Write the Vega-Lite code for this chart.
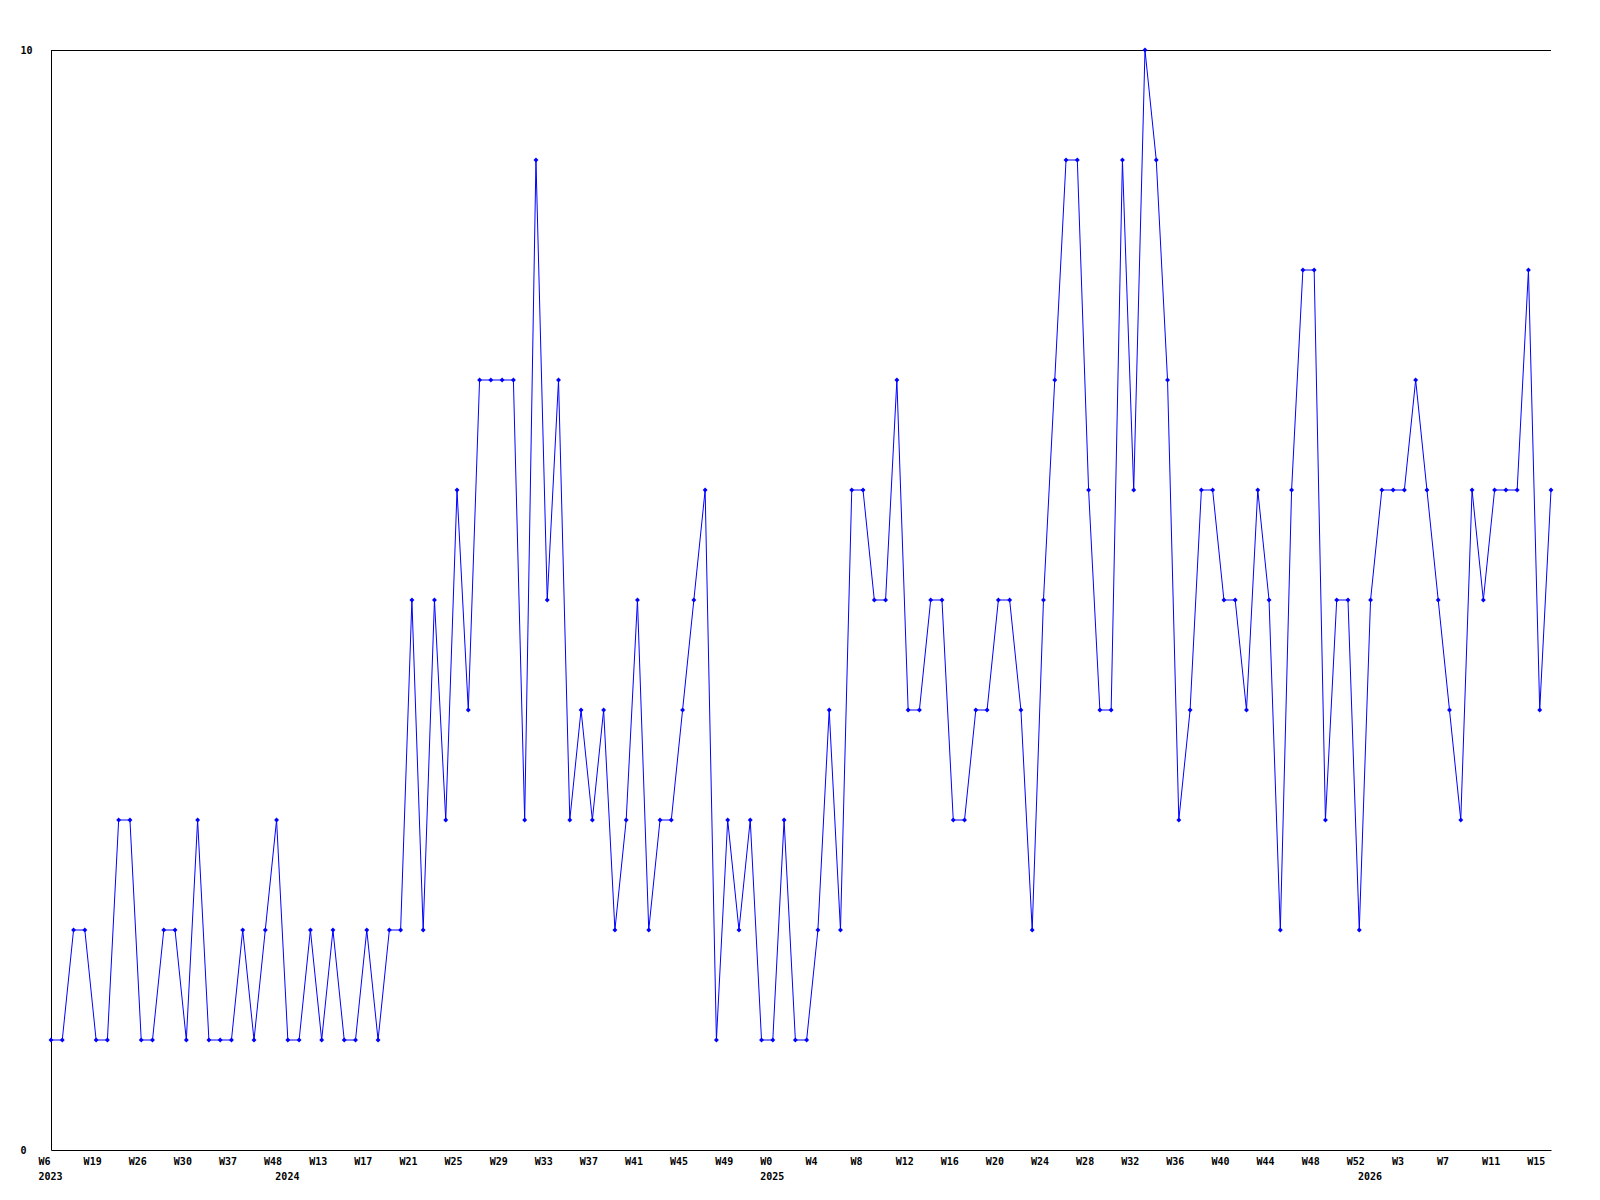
{
  "$schema": "https://vega.github.io/schema/vega-lite/v6.json",
  "width": 1500,
  "height": 1100,
  "autosize": "none",
  "padding": {"left": 51, "top": 50, "right": 49, "bottom": 50},
  "background": "white",
  "config": {
    "view": {"stroke": null},
    "axis": {"labelFont": "DejaVu Sans Mono", "labelFontWeight": "bold", "labelFontSize": 10, "labelColor": "black", "domainColor": "black", "domainWidth": 1, "grid": false, "ticks": false, "tickSize": 0, "title": null}
  },
  "data": {"values": [
    {"week": "2023|W6", "count": 1}, {"week": "2023|W8", "count": 1}, {"week": "2023|W12", "count": 2}, {"week": "2023|W15", "count": 2},
    {"week": "2023|W19", "count": 1}, {"week": "2023|W20", "count": 1}, {"week": "2023|W22", "count": 3}, {"week": "2023|W24", "count": 3},
    {"week": "2023|W26", "count": 1}, {"week": "2023|W27", "count": 1}, {"week": "2023|W28", "count": 2}, {"week": "2023|W29", "count": 2},
    {"week": "2023|W30", "count": 1}, {"week": "2023|W32", "count": 3}, {"week": "2023|W34", "count": 1}, {"week": "2023|W35", "count": 1},
    {"week": "2023|W37", "count": 1}, {"week": "2023|W40", "count": 2}, {"week": "2023|W43", "count": 1}, {"week": "2023|W45", "count": 2},
    {"week": "2023|W48", "count": 3}, {"week": "2024|W1", "count": 1}, {"week": "2024|W5", "count": 1}, {"week": "2024|W9", "count": 2},
    {"week": "2024|W13", "count": 1}, {"week": "2024|W14", "count": 2}, {"week": "2024|W15", "count": 1}, {"week": "2024|W16", "count": 1},
    {"week": "2024|W17", "count": 2}, {"week": "2024|W18", "count": 1}, {"week": "2024|W19", "count": 2}, {"week": "2024|W20", "count": 2},
    {"week": "2024|W21", "count": 5}, {"week": "2024|W22", "count": 2}, {"week": "2024|W23", "count": 5}, {"week": "2024|W24", "count": 3},
    {"week": "2024|W25", "count": 6}, {"week": "2024|W26", "count": 4}, {"week": "2024|W27", "count": 7}, {"week": "2024|W28", "count": 7},
    {"week": "2024|W29", "count": 7}, {"week": "2024|W30", "count": 7}, {"week": "2024|W31", "count": 3}, {"week": "2024|W32", "count": 9},
    {"week": "2024|W33", "count": 5}, {"week": "2024|W34", "count": 7}, {"week": "2024|W35", "count": 3}, {"week": "2024|W36", "count": 4},
    {"week": "2024|W37", "count": 3}, {"week": "2024|W38", "count": 4}, {"week": "2024|W39", "count": 2}, {"week": "2024|W40", "count": 3},
    {"week": "2024|W41", "count": 5}, {"week": "2024|W42", "count": 2}, {"week": "2024|W43", "count": 3}, {"week": "2024|W44", "count": 3},
    {"week": "2024|W45", "count": 4}, {"week": "2024|W46", "count": 5}, {"week": "2024|W47", "count": 6}, {"week": "2024|W48", "count": 1},
    {"week": "2024|W49", "count": 3}, {"week": "2024|W50", "count": 2}, {"week": "2024|W51", "count": 3}, {"week": "2024|W52", "count": 1},
    {"week": "2025|W0", "count": 1}, {"week": "2025|W1", "count": 3}, {"week": "2025|W2", "count": 1}, {"week": "2025|W3", "count": 1},
    {"week": "2025|W4", "count": 2}, {"week": "2025|W5", "count": 4}, {"week": "2025|W6", "count": 2}, {"week": "2025|W7", "count": 6},
    {"week": "2025|W8", "count": 6}, {"week": "2025|W9", "count": 5}, {"week": "2025|W10", "count": 5}, {"week": "2025|W11", "count": 7},
    {"week": "2025|W12", "count": 4}, {"week": "2025|W13", "count": 4}, {"week": "2025|W14", "count": 5}, {"week": "2025|W15", "count": 5},
    {"week": "2025|W16", "count": 3}, {"week": "2025|W17", "count": 3}, {"week": "2025|W18", "count": 4}, {"week": "2025|W19", "count": 4},
    {"week": "2025|W20", "count": 5}, {"week": "2025|W21", "count": 5}, {"week": "2025|W22", "count": 4}, {"week": "2025|W23", "count": 2},
    {"week": "2025|W24", "count": 5}, {"week": "2025|W25", "count": 7}, {"week": "2025|W26", "count": 9}, {"week": "2025|W27", "count": 9},
    {"week": "2025|W28", "count": 6}, {"week": "2025|W29", "count": 4}, {"week": "2025|W30", "count": 4}, {"week": "2025|W31", "count": 9},
    {"week": "2025|W32", "count": 6}, {"week": "2025|W33", "count": 10}, {"week": "2025|W34", "count": 9}, {"week": "2025|W35", "count": 7},
    {"week": "2025|W36", "count": 3}, {"week": "2025|W37", "count": 4}, {"week": "2025|W38", "count": 6}, {"week": "2025|W39", "count": 6},
    {"week": "2025|W40", "count": 5}, {"week": "2025|W41", "count": 5}, {"week": "2025|W42", "count": 4}, {"week": "2025|W43", "count": 6},
    {"week": "2025|W44", "count": 5}, {"week": "2025|W45", "count": 2}, {"week": "2025|W46", "count": 6}, {"week": "2025|W47", "count": 8},
    {"week": "2025|W48", "count": 8}, {"week": "2025|W49", "count": 3}, {"week": "2025|W50", "count": 5}, {"week": "2025|W51", "count": 5},
    {"week": "2025|W52", "count": 2}, {"week": "2026|W0", "count": 5}, {"week": "2026|W1", "count": 6}, {"week": "2026|W2", "count": 6},
    {"week": "2026|W3", "count": 6}, {"week": "2026|W4", "count": 7}, {"week": "2026|W5", "count": 6}, {"week": "2026|W6", "count": 5},
    {"week": "2026|W7", "count": 4}, {"week": "2026|W8", "count": 3}, {"week": "2026|W9", "count": 6}, {"week": "2026|W10", "count": 5},
    {"week": "2026|W11", "count": 6}, {"week": "2026|W12", "count": 6}, {"week": "2026|W13", "count": 6}, {"week": "2026|W14", "count": 8},
    {"week": "2026|W15", "count": 4}, {"week": "2026|W16", "count": 6}
  ]},
  "encoding": {
    "x": {
      "field": "week", "type": "ordinal", "sort": null,
      "scale": {"type": "point", "padding": 0},
      "axis": {
        "values": ["2023|W6", "2023|W19", "2023|W26", "2023|W30", "2023|W37", "2023|W48", "2024|W1", "2024|W13", "2024|W17", "2024|W21", "2024|W25", "2024|W29", "2024|W33", "2024|W37", "2024|W41", "2024|W45", "2024|W49", "2025|W0", "2025|W4", "2025|W8", "2025|W12", "2025|W16", "2025|W20", "2025|W24", "2025|W28", "2025|W32", "2025|W36", "2025|W40", "2025|W44", "2025|W48", "2025|W52", "2026|W0", "2026|W3", "2026|W7", "2026|W11", "2026|W15"],
        "labelExpr": "(datum.value == '2024|W1' || datum.value == '2026|W0') ? ['', split(datum.value,'|')[0]] : ((datum.value == '2023|W6' || datum.value == '2025|W0') ? [split(datum.value,'|')[1], split(datum.value,'|')[0]] : split(datum.value,'|')[1])",
        "labelAlign": "left", "labelBaseline": "top", "labelOffset": -13, "labelPadding": 6, "labelLineHeight": 15, "labelAngle": 0, "labelOverlap": false
      }
    },
    "y": {
      "field": "count", "type": "quantitative",
      "scale": {"domain": [0, 10], "nice": false, "zero": true},
      "axis": {"values": [0, 10], "labelAlign": "left", "labelBaseline": "middle", "labelPadding": 31}
    }
  },
  "layer": [
    {"mark": {"type": "rule", "color": "black", "strokeWidth": 1, "yOffset": 0.5}, "encoding": {"x": null, "y": {"datum": 10}}},
    {"mark": {"type": "line", "color": "#0000FF", "strokeWidth": 1}},
    {"mark": {"type": "point", "shape": "diamond", "filled": true, "size": 24, "color": "#0000FF", "opacity": 1}}
  ]
}
